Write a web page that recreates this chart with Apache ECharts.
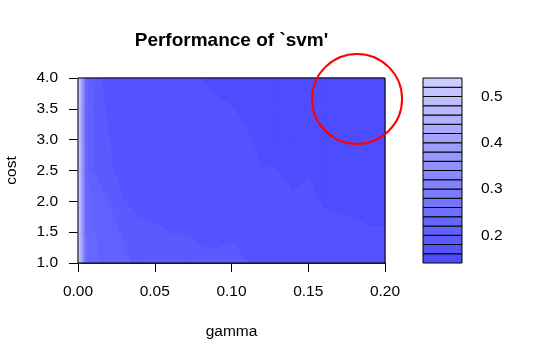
<!DOCTYPE html>
<html>
<head>
<meta charset="utf-8">
<script src="https://cdn.jsdelivr.net/npm/echarts@6/dist/echarts.min.js"></script>
<style>html,body{margin:0;padding:0;background:#fff}#c{width:541px;height:361px}</style>
</head>
<body>
<div id="c"></div>
<script>
// ---- data ----
const gammaVals = [0, 0.005, 0.01, 0.02, 0.03, 0.04, 0.05, 0.06, 0.07, 0.08, 0.09, 0.10, 0.11, 0.12, 0.13, 0.14, 0.15, 0.16, 0.17, 0.18, 0.19, 0.20];
const costVals = [1, 1.5, 2, 2.5, 3, 3.5, 4];
const errCost1_0 = [0.535, 0.245, 0.225, 0.212, 0.203, 0.195, 0.190, 0.188, 0.186, 0.1822, 0.1821, 0.1832, 0.1802, 0.177, 0.175, 0.173, 0.171, 0.169, 0.168, 0.167, 0.166, 0.166];
const errCost1_5 = [0.535, 0.240, 0.222, 0.205, 0.198, 0.1826, 0.1817, 0.1799, 0.1799, 0.178, 0.1775, 0.1785, 0.176, 0.174, 0.172, 0.170, 0.168, 0.1663, 0.1638, 0.1631, 0.1612, 0.1610];
const errCost2_0 = [0.535, 0.235, 0.215, 0.1995, 0.1802, 0.177, 0.176, 0.175, 0.174, 0.173, 0.172, 0.171, 0.169, 0.167, 0.165, 0.1612, 0.165, 0.158, 0.157, 0.156, 0.155, 0.155];
const errCost2_5 = [0.535, 0.225, 0.1995, 0.1815, 0.176, 0.175, 0.174, 0.173, 0.172, 0.171, 0.170, 0.168, 0.166, 0.1607, 0.1601, 0.157, 0.1585, 0.154, 0.153, 0.152, 0.151, 0.151];
const errCost3_0 = [0.535, 0.225, 0.198, 0.1805, 0.174, 0.172, 0.171, 0.170, 0.169, 0.168, 0.166, 0.164, 0.1615, 0.156, 0.154, 0.152, 0.152, 0.150, 0.149, 0.149, 0.148, 0.148];
const errCost3_5 = [0.535, 0.225, 0.198, 0.174, 0.170, 0.169, 0.169, 0.168, 0.167, 0.165, 0.163, 0.1605, 0.157, 0.153, 0.151, 0.150, 0.149, 0.148, 0.148, 0.147, 0.147, 0.146];
const errCost4_0 = [0.535, 0.225, 0.197, 0.163, 0.165, 0.166, 0.166, 0.165, 0.163, 0.1598, 0.156, 0.154, 0.153, 0.150, 0.149, 0.148, 0.148, 0.147, 0.147, 0.146, 0.146, 0.146];
const levels = [0.14, 0.16, 0.18, 0.20, 0.22, 0.24, 0.26, 0.28, 0.30, 0.32, 0.34, 0.36, 0.38, 0.40, 0.42, 0.44, 0.46, 0.48, 0.50, 0.52, 0.54];
const xTicks = [0, 0.05, 0.10, 0.15, 0.20];
const yTicks = [1, 1.5, 2, 2.5, 3, 3.5, 4];
const legendTicks = [0.2, 0.3, 0.4, 0.5];
const highlight = [0.1818, 3.66];
const titleText = "Performance of `svm'";

// ---- derived ----
const Z = [errCost1_0, errCost1_5, errCost2_0, errCost2_5, errCost3_0, errCost3_5, errCost4_0];
const nBands = levels.length - 1;
// hsv(h=2/3, s = seq(0.7, 0.2, length=n), v=1)
const bandColors = [];
for (let k = 0; k < nBands; k++) {
  const s = 0.7 - k * (0.5 / (nBands - 1));
  const v = Math.round(255 * (1 - s));
  bandColors.push('rgb(' + v + ',' + v + ',255)');
}

function safeZ(z) {
  for (let k = 0; k < levels.length; k++) {
    if (Math.abs(z - levels[k]) < 1e-9) return z + 1e-6;
  }
  return z;
}

const cells = [];
for (let j = 0; j < costVals.length - 1; j++) {
  for (let i = 0; i < gammaVals.length - 1; i++) {
    cells.push([(gammaVals[i] + gammaVals[i + 1]) / 2, (costVals[j] + costVals[j + 1]) / 2, i, j]);
  }
}

function cellPolys(i, j) {
  const g0 = gammaVals[i], g1 = gammaVals[i + 1], c0 = costVals[j], c1 = costVals[j + 1];
  const corners = [
    [g0, c0, safeZ(Z[j][i])], [g1, c0, safeZ(Z[j][i + 1])],
    [g1, c1, safeZ(Z[j + 1][i + 1])], [g0, c1, safeZ(Z[j + 1][i])]
  ];
  const polys = [];
  for (let k = 0; k < nBands; k++) {
    const lo = levels[k], hi = levels[k + 1];
    const pts = [];
    for (let e = 0; e < 4; e++) {
      const A = corners[e], B = corners[(e + 1) % 4];
      if (A[2] >= lo && A[2] < hi) pts.push([A[0], A[1]]);
      const ts = [];
      [lo, hi].forEach(function (L) {
        if ((A[2] - L) * (B[2] - L) < 0) ts.push((L - A[2]) / (B[2] - A[2]));
      });
      ts.sort(function (a, b) { return a - b; });
      ts.forEach(function (t) { pts.push([A[0] + t * (B[0] - A[0]), A[1] + t * (B[1] - A[1])]); });
    }
    if (pts.length >= 3) polys.push({ k: k, pts: pts });
  }
  return polys;
}

const FONT = "'Liberation Sans', Arial, sans-serif";
const chart = echarts.init(document.getElementById('c'), null, { renderer: 'canvas' });
const bandData = [];
for (let k = 0; k < nBands; k++) bandData.push([0.5, (levels[k] + levels[k + 1]) / 2, k]);

chart.setOption({
  animation: false,
  backgroundColor: '#fff',
  graphic: [{
    type: 'text', x: 231.5, y: 41,
    style: { text: titleText, align: 'center', verticalAlign: 'middle', fontFamily: FONT, fontSize: 19, fontWeight: 'bold', fill: '#000' }
  }],
  grid: [
    { left: 78, top: 78, width: 307, height: 185, outerBoundsMode: 'none', containLabel: false, show: true, borderColor: '#000', borderWidth: 1, backgroundColor: 'transparent', z: 5 },
    { left: 423, top: 78, width: 39, height: 185, outerBoundsMode: 'none', containLabel: false, show: false }
  ],
  xAxis: [{
    type: 'value', gridIndex: 0, min: 0, max: 0.2, interval: 0.05,
    name: 'gamma', nameLocation: 'middle', nameGap: 69,
    nameTextStyle: { fontFamily: FONT, fontSize: 15.5, color: '#000', verticalAlign: 'middle' },
    axisLine: { show: true, lineStyle: { color: '#000', width: 1 } },
    axisTick: { show: true, length: 9, lineStyle: { color: '#000', width: 1 }, customValues: xTicks },
    axisLabel: { fontFamily: FONT, fontSize: 15.5, color: '#000', margin: 21, customValues: xTicks, formatter: function (v) { return v.toFixed(2); } },
    splitLine: { show: false }
  }, {
    type: 'value', gridIndex: 1, min: 0, max: 1, show: false
  }],
  yAxis: [{
    type: 'value', gridIndex: 0, min: 1, max: 4, interval: 0.5,
    name: 'cost', nameLocation: 'middle', nameGap: 66,
    nameTextStyle: { fontFamily: FONT, fontSize: 15.5, color: '#000', verticalAlign: 'middle' },
    axisLine: { show: true, lineStyle: { color: '#000', width: 1 } },
    axisTick: { show: true, length: 9, lineStyle: { color: '#000', width: 1 }, customValues: yTicks },
    axisLabel: { fontFamily: FONT, fontSize: 15.5, color: '#000', margin: 20, customValues: yTicks, formatter: function (v) { return v.toFixed(1); } },
    splitLine: { show: false }
  }, {
    type: 'value', gridIndex: 1, min: levels[0], max: levels[levels.length - 1], position: 'right',
    axisLine: { show: false },
    axisTick: { show: true, length: 9, lineStyle: { color: '#000', width: 1 }, customValues: legendTicks },
    axisLabel: { fontFamily: FONT, fontSize: 15.5, color: '#000', margin: 19, customValues: legendTicks, formatter: function (v) { return v.toFixed(1); } },
    splitLine: { show: false }
  }],
  series: [{
    type: 'custom', xAxisIndex: 0, yAxisIndex: 0, z: 1,
    data: cells,
    renderItem: function (params, api) {
      const i = api.value(2), j = api.value(3);
      const polys = cellPolys(i, j);
      return {
        type: 'group',
        children: polys.map(function (p) {
          return {
            type: 'polygon',
            shape: { points: p.pts.map(function (pt) { return api.coord(pt); }) },
            style: { fill: bandColors[p.k], stroke: bandColors[p.k], lineWidth: 1 }
          };
        })
      };
    }
  }, {
    type: 'custom', xAxisIndex: 1, yAxisIndex: 1, z: 3,
    data: bandData,
    renderItem: function (params, api) {
      const k = api.value(2);
      const p0 = api.coord([0, levels[k]]);
      const p1 = api.coord([1, levels[k + 1]]);
      return {
        type: 'rect',
        shape: { x: p0[0], y: p1[1], width: p1[0] - p0[0], height: p0[1] - p1[1] },
        style: { fill: bandColors[k], stroke: '#000', lineWidth: 1 }
      };
    }
  }, {
    type: 'custom', xAxisIndex: 0, yAxisIndex: 0, z: 10, clip: false,
    data: [highlight],
    renderItem: function (params, api) {
      const c = api.coord([api.value(0), api.value(1)]);
      return {
        type: 'circle',
        shape: { cx: c[0], cy: c[1], r: 45 },
        style: { fill: 'none', stroke: '#ff0000', lineWidth: 2 }
      };
    }
  }]
});
</script>
</body>
</html>
